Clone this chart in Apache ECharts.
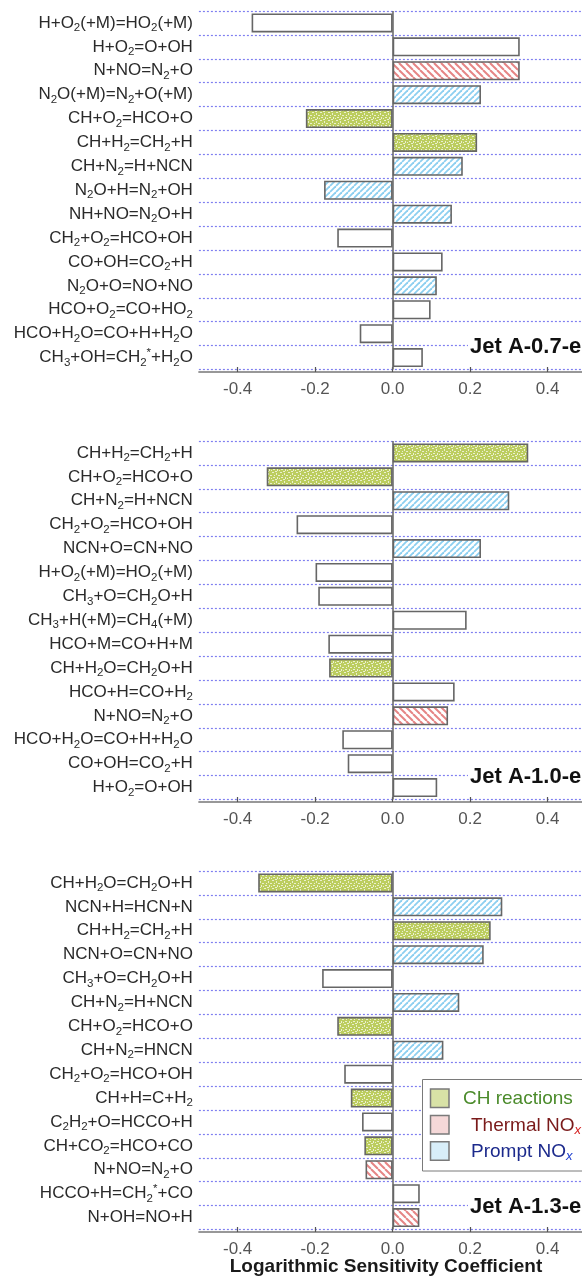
<!DOCTYPE html>
<html>
<head>
<meta charset="utf-8">
<script src="https://cdn.jsdelivr.net/npm/echarts@6/dist/echarts.min.js"></script>
<style>
html,body{margin:0;padding:0;background:#fff;}
#chart{width:582px;height:1282px;}
</style>
</head>
<body>
<div id="chart"></div>
<script>
// ---- data ----
const cats1 = ['H+O_2(+M)=HO_2(+M)','H+O_2=O+OH','N+NO=N_2+O','N_2O(+M)=N_2+O(+M)','CH+O_2=HCO+O','CH+H_2=CH_2+H','CH+N_2=H+NCN','N_2O+H=N_2+OH','NH+NO=N_2O+H','CH_2+O_2=HCO+OH','CO+OH=CO_2+H','N_2O+O=NO+NO','HCO+O_2=CO+HO_2','HCO+H_2O=CO+H+H_2O','CH_3+OH=CH_2^*+H_2O'];
const vals1 = [-0.364, 0.328, 0.328, 0.228, -0.224, 0.218, 0.181, -0.177, 0.153, -0.143, 0.129, 0.114, 0.098, -0.085, 0.078];
const types1 = ['N','N','T','P','C','C','P','P','P','N','N','P','N','N','N'];

const cats2 = ['CH+H_2=CH_2+H','CH+O_2=HCO+O','CH+N_2=H+NCN','CH_2+O_2=HCO+OH','NCN+O=CN+NO','H+O_2(+M)=HO_2(+M)','CH_3+O=CH_2O+H','CH_3+H(+M)=CH_4(+M)','HCO+M=CO+H+M','CH+H_2O=CH_2O+H','HCO+H=CO+H_2','N+NO=N_2+O','HCO+H_2O=CO+H+H_2O','CO+OH=CO_2+H','H+O_2=O+OH'];
const vals2 = [0.350, -0.325, 0.301, -0.248, 0.228, -0.199, -0.192, 0.191, -0.166, -0.164, 0.160, 0.143, -0.130, -0.116, 0.115];
const types2 = ['C','C','P','N','P','N','N','N','N','C','N','T','N','N','N'];

const cats3 = ['CH+H_2O=CH_2O+H','NCN+H=HCN+N','CH+H_2=CH_2+H','NCN+O=CN+NO','CH_3+O=CH_2O+H','CH+N_2=H+NCN','CH+O_2=HCO+O','CH+N_2=HNCN','CH_2+O_2=HCO+OH','CH+H=C+H_2','C_2H_2+O=HCCO+H','CH+CO_2=HCO+CO','N+NO=N_2+O','HCCO+H=CH_2^*+CO','N+OH=NO+H'];
const vals3 = [-0.347, 0.283, 0.253, 0.235, -0.182, 0.172, -0.143, 0.131, -0.125, -0.108, -0.079, -0.073, -0.070, 0.070, 0.069];
const types3 = ['C','P','C','P','N','P','C','P','N','C','N','C','T','N','T'];

const panelNames = ['Jet A-0.7-e', 'Jet A-1.0-e', 'Jet A-1.3-e'];
const tickValues = [-0.4, -0.2, 0, 0.2, 0.4];
const legendNames = ['CH reactions', 'Thermal NO', 'Prompt NO'];
const axisTitle = 'Logarithmic Sensitivity Coefficient';

// ---- patterns ----
function hatch(color, dir, p, lw) {
  const c = document.createElement('canvas');
  c.width = p; c.height = p;
  const g = c.getContext('2d');
  g.fillStyle = '#fff'; g.fillRect(0, 0, p, p);
  g.strokeStyle = color; g.lineWidth = lw;
  for (const k of [-p, 0, p]) {
    g.beginPath();
    if (dir === '/') { g.moveTo(k, p); g.lineTo(k + p, 0); }
    else { g.moveTo(k, 0); g.lineTo(k + p, p); }
    g.stroke();
  }
  return c;
}
function speckle() {
  const c = document.createElement('canvas');
  c.width = 8; c.height = 8;
  const g = c.getContext('2d');
  g.fillStyle = '#bccd5f'; g.fillRect(0, 0, 8, 8);
  g.fillStyle = 'rgba(255,255,255,0.7)';
  const pts = [[0,0,2,1],[4,1,1,2],[6,3,2,1],[2,3,1,1],[1,5,2,1],[5,5,1,2],[3,7,2,1],[7,6,1,1]];
  pts.forEach(q => g.fillRect(q[0], q[1], q[2], q[3]));
  return c;
}
const FILL = {
  C: { image: speckle(), repeat: 'repeat' },
  T: { image: hatch('#e58585', '\\', 7, 2), repeat: 'repeat' },
  P: { image: hatch('#8ccff0', '/', 6, 1.8), repeat: 'repeat' },
  N: '#ffffff'
};

const FONT = 'Liberation Sans, Arial, Helvetica, sans-serif';
function richLabel(s) {
  return s.replace(/_(\d)/g, '{s|$1}').replace(/\^\*/g, '{p|*}');
}

const panels = [
  { cats: cats1, vals: vals1, types: types1 },
  { cats: cats2, vals: vals2, types: types2 },
  { cats: cats3, vals: vals3, types: types3 }
];
const tops = [11, 441, 871];
const H = 358.5;

const grids = [], xAxes = [], yAxes = [], series = [];
panels.forEach((p, i) => {
  grids.push({ left: 198.9, width: 387.5, top: tops[i], height: H, containLabel: false, outerBoundsMode: 'none' });
  xAxes.push({
    gridIndex: i, type: 'value', min: -0.5, max: 0.5, offset: 2.5,
    axisLine: { show: true, lineStyle: { color: '#777', width: 1.5 } },
    axisTick: { show: true, inside: true, length: 5, customValues: tickValues, lineStyle: { color: '#555', width: 1.2 } },
    axisLabel: { customValues: tickValues, formatter: v => v.toFixed(1), fontSize: 17, color: '#555', margin: 9, fontFamily: FONT },
    splitLine: { show: false }
  });
  yAxes.push({
    gridIndex: i, type: 'category', inverse: true, data: p.cats,
    axisLine: { show: false }, axisTick: { show: false },
    axisLabel: {
      interval: 0, margin: 6, fontSize: 17, color: '#2a2a2a', fontFamily: FONT,
      formatter: v => richLabel(v),
      rich: {
        s: { fontSize: 11.5, lineHeight: 12, padding: [10, 0, 0, 0], color: '#2a2a2a', fontFamily: FONT },
        p: { fontSize: 11.5, lineHeight: 12, padding: [0, 0, 9, 0], color: '#2a2a2a', fontFamily: FONT }
      }
    },
    splitLine: { show: true, interval: 0, lineStyle: { color: '#7f7ff0', type: [2, 2], width: 1.2 } }
  });
  series.push({
    type: 'bar', xAxisIndex: i, yAxisIndex: i, barWidth: 19, silent: true,
    itemStyle: { borderColor: '#666', borderWidth: 1.6 },
    data: p.vals.map((v, j) => ({ value: v, itemStyle: { color: FILL[p.types[j]] } })),
    markLine: {
      silent: true, symbol: 'none', label: { show: false },
      lineStyle: { color: '#666', type: 'solid', width: 1.5 },
      data: [{ xAxis: 0 }]
    },
    animation: false
  });
});

const graphic = [];
panelNames.forEach((name, i) => {
  graphic.push({
    type: 'text', x: 468, y: tops[i] + 336, z: 100,
    style: { text: name, font: 'bold 22px ' + FONT, fill: '#111', align: 'left', verticalAlign: 'middle',
             backgroundColor: '#fff', padding: [3, 0, 3, 2] }
  });
});
graphic.push({
  type: 'text', x: 386, y: 1267, z: 100,
  style: { text: axisTitle, font: 'bold 19px ' + FONT, fill: '#1a1a1a', align: 'center', verticalAlign: 'middle' }
});
// legend
graphic.push({ type: 'rect', z: 100, shape: { x: 422.5, y: 1079.5, width: 180, height: 91.5 }, style: { fill: '#fff', stroke: '#7a7a7a', lineWidth: 1 } });
const swFill = ['#d8e2a6', '#f5d8d8', '#d8eef9'];
const txtCol = ['#4b8b2b', '#7a1a1a', '#1c2a8c'];
const subCol = ['#4b8b2b', '#d42020', '#2040d0'];
const rowsY = [1098.5, 1125, 1151.3];
const txtX = [463, 471, 471];
legendNames.forEach((n, i) => {
  graphic.push({ type: 'rect', z: 101, shape: { x: 430.5, y: rowsY[i] - 9.5, width: 18.5, height: 18.5 }, style: { fill: swFill[i], stroke: '#7a7a7a', lineWidth: 1.5 } });
  graphic.push({
    type: 'text', z: 101, x: txtX[i], y: rowsY[i] + 0.5,
    style: {
      text: i === 0 ? n : n + '{x|x}', font: '19px ' + FONT, fill: txtCol[i], align: 'left', verticalAlign: 'middle',
      rich: { x: { fontSize: 13, fontStyle: 'italic', fill: subCol[i], fontFamily: FONT, lineHeight: 13, padding: [9, 0, 0, 0] } }
    }
  });
});

const chart = echarts.init(document.getElementById('chart'), null, { renderer: 'canvas' });
chart.setOption({
  animation: false,
  backgroundColor: '#fff',
  grid: grids, xAxis: xAxes, yAxis: yAxes, series: series, graphic: graphic
});
</script>
</body>
</html>
